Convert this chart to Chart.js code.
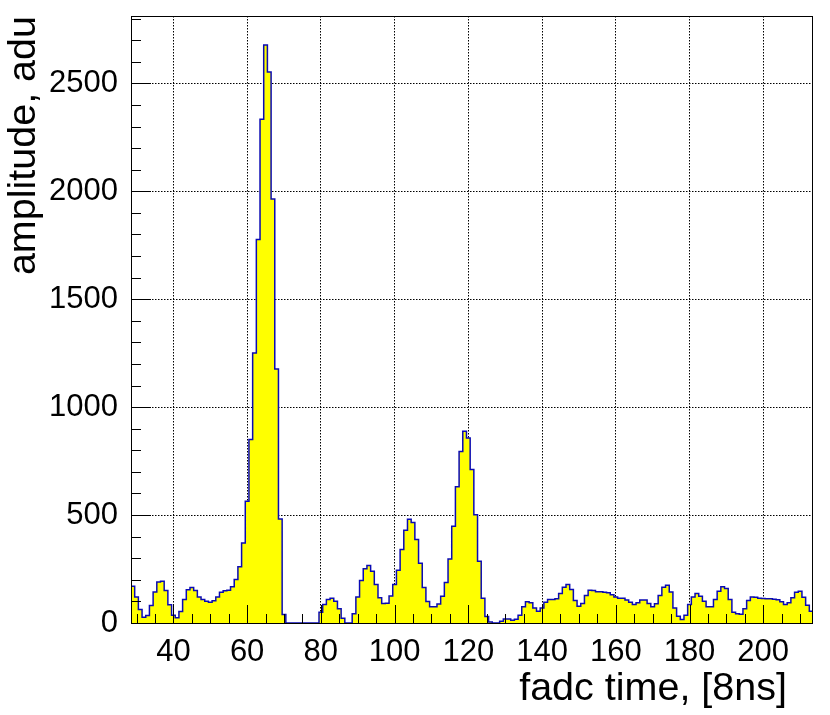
<!DOCTYPE html>
<html>
<head>
<meta charset="utf-8">
<title>fadc amplitude</title>
<script src="https://cdn.jsdelivr.net/npm/chart.js@4.4.1/dist/chart.umd.min.js"></script>
<style>
  html, body { margin: 0; padding: 0; background: #fff; }
  canvas { display: block; }
</style>
</head>
<body>
<canvas id="histo" width="830" height="715"></canvas>
<script>
// ──────────────────────────────────────────────
//  Datos (bins de 1 unidad, centros enteros)
// ──────────────────────────────────────────────

const fadcTime = [
   29,  30,  31,  32,  33,  34,  35,  36,  37,  38,
   39,  40,  41,  42,  43,  44,  45,  46,  47,  48,
   49,  50,  51,  52,  53,  54,  55,  56,  57,  58,
   59,  60,  61,  62,  63,  64,  65,  66,  67,  68,
   69,  70,  71,  72,  73,  74,  75,  76,  77,  78,
   79,  80,  81,  82,  83,  84,  85,  86,  87,  88,
   89,  90,  91,  92,  93,  94,  95,  96,  97,  98,
   99, 100, 101, 102, 103, 104, 105, 106, 107, 108,
  109, 110, 111, 112, 113, 114, 115, 116, 117, 118,
  119, 120, 121, 122, 123, 124, 125, 126, 127, 128,
  129, 130, 131, 132, 133, 134, 135, 136, 137, 138,
  139, 140, 141, 142, 143, 144, 145, 146, 147, 148,
  149, 150, 151, 152, 153, 154, 155, 156, 157, 158,
  159, 160, 161, 162, 163, 164, 165, 166, 167, 168,
  169, 170, 171, 172, 173, 174, 175, 176, 177, 178,
  179, 180, 181, 182, 183, 184, 185, 186, 187, 188,
  189, 190, 191, 192, 193, 194, 195, 196, 197, 198,
  199, 200, 201, 202, 203, 204, 205, 206, 207, 208,
  209, 210, 211, 212, 213,
];

const amplitude = [
  170, 121,  62,  27,  35,  81, 144, 190, 193, 150,
   84,  36,  24,  53, 109, 154, 164, 150, 121, 109,
  101,  96, 103, 121, 143, 149, 152, 168, 201, 260,
  371, 564, 850, 1251, 1776, 2334, 2678, 2552, 1964, 1177,
  482,  39,   0,   0,   0,   0,   0,   0,   0,   0,
    0,  50,  86, 109, 115, 101,  66,  22,   0,   0,
   43, 120, 197, 251, 266, 240, 178, 117,  90,  92,
  125, 178, 244, 340, 430, 481, 466, 387, 277, 165,
  100,  75,  75,  88, 124, 188, 296, 448, 631, 795,
  888, 857, 711, 502, 286, 115,  30,   5,   0,   0,
    8,  19,  19,  13,  17,  36,  75,  98,  94,  70,
   55,  70,  96, 109, 109, 112, 137, 166, 178, 155,
  104,  78,  90, 127, 152, 150, 145, 145, 143, 140,
  131, 120, 115, 115, 106,  96,  86,  94, 107, 107,
   90,  75,  89, 127, 166, 175, 144,  70,  31,  16,
   36,  86, 121, 137, 124, 101,  75,  75, 109, 147,
  168, 160, 109,  50,  43,  40,  66, 104, 121, 119,
  115, 113, 112, 112, 110, 108,  98,  86,  94, 117,
  143, 147, 119,  82,  55,
];

const xTickLabels = [40, 60, 80, 100, 120, 140, 160, 180, 200];
const yTickLabels = [0, 500, 1000, 1500, 2000, 2500];

const X_TITLE = 'fadc time, [8ns]';
const Y_TITLE = 'amplitude, adu';
const FONT = '"Liberation Sans", Arial, Helvetica, sans-serif';

// ──────────────────────────────────────────────
//  Histograma como línea escalonada (bordes de bin)
// ──────────────────────────────────────────────

const BIN_W = 1;
const xMin = fadcTime[0] - BIN_W / 2;
const xMax = fadcTime[fadcTime.length - 1] + BIN_W / 2;
const yMax = Math.max(...amplitude) * 1.05;   // margen tipo ROOT

const puntos = fadcTime.map((t, i) => ({ x: t - BIN_W / 2, y: amplitude[i] }));
puntos.push({ x: xMax, y: amplitude[amplitude.length - 1] });

// Marco, ticks hacia dentro y título X (estilo ROOT)
const marcoRoot = {
  id: 'marcoRoot',
  afterDatasetsDraw(chart) {
    const { ctx, chartArea: a, scales: { x, y } } = chart;
    ctx.save();
    ctx.strokeStyle = '#000';
    ctx.lineWidth = 1;
    ctx.beginPath();
    for (let v = Math.ceil(x.min / 5) * 5; v <= x.max; v += 5) {
      const px = Math.round(x.getPixelForValue(v)) + 0.5;
      const len = v % 20 === 0 ? 18 : 9;
      ctx.moveTo(px, a.bottom);
      ctx.lineTo(px, a.bottom - len);
    }
    for (let v = 100; v <= y.max; v += 100) {
      const py = Math.round(y.getPixelForValue(v)) + 0.5;
      const len = v % 500 === 0 ? 20 : 10;
      ctx.moveTo(a.left, py);
      ctx.lineTo(a.left + len, py);
    }
    ctx.stroke();
    ctx.strokeRect(a.left + 0.5, a.top + 0.5, a.right - a.left - 1, a.bottom - a.top);

    ctx.fillStyle = '#000';
    ctx.font = `39.5px ${FONT}`;
    ctx.textAlign = 'right';
    ctx.textBaseline = 'alphabetic';
    ctx.fillText(X_TITLE, 787, 700);
    ctx.restore();
  },
};

const ctx = document.getElementById('histo').getContext('2d');

new Chart(ctx, {
  type: 'line',
  data: {
    datasets: [
      {
        label: 'amplitude',
        data: puntos,
        stepped: true,
        fill: 'origin',
        backgroundColor: '#ffff00',
        borderColor: '#0a0ab4',
        borderWidth: 1.5,
        pointRadius: 0,
        tension: 0,
      },
    ],
  },
  options: {
    responsive: false,
    animation: false,
    devicePixelRatio: 1,
    layout: { padding: { left: 0, right: 17, top: 16, bottom: 0 } },
    plugins: {
      legend: { display: false },
      tooltip: { enabled: false },
    },
    scales: {
      x: {
        type: 'linear',
        min: xMin,
        max: xMax,
        afterBuildTicks: (s) => { s.ticks = xTickLabels.map(v => ({ value: v })); },
        afterFit: (s) => {
          s.height = 92;
          s.paddingLeft = 0;
          s.paddingRight = 0;
        },
        ticks: {
          autoSkip: false,
          maxRotation: 0,
          padding: 11,
          color: '#000',
          font: { size: 31, family: FONT },
          callback: (v) => String(v),
        },
        grid: { color: '#000', lineWidth: 1, drawTicks: false },
        border: { display: false, dash: [1.5, 1.5] },
        title: { display: false },
      },
      y: {
        type: 'linear',
        min: 0,
        max: yMax,
        afterBuildTicks: (s) => { s.ticks = yTickLabels.map(v => ({ value: v })); },
        afterFit: (s) => {
          s.width = 131;
          s.paddingTop = 0;
          s.paddingBottom = 0;
        },
        ticks: {
          padding: 13,
          color: '#000',
          font: { size: 31, family: FONT },
          callback: (v) => String(v),
        },
        grid: { color: '#000', lineWidth: 1, drawTicks: false },
        border: { display: false, dash: [1.5, 1.5] },
        title: {
          display: true,
          text: Y_TITLE,
          align: 'end',
          color: '#000',
          font: { size: 39.5, family: FONT },
          padding: 0,
        },
      },
    },
  },
  plugins: [marcoRoot],
});
</script>
</body>
</html>
